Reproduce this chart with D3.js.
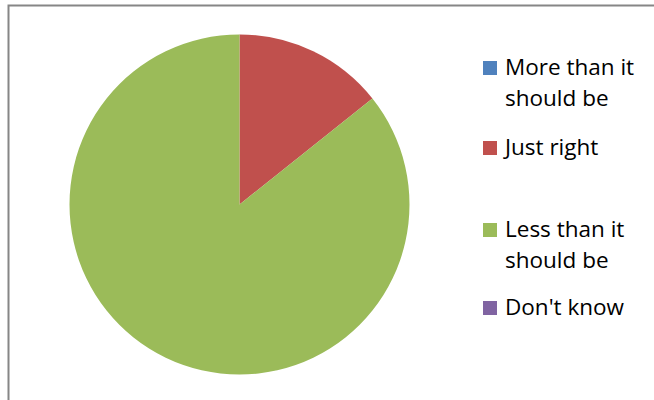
<!DOCTYPE html>
<html>
<head>
<meta charset="utf-8">
<script src="https://cdn.jsdelivr.net/npm/d3@7"></script>
<style>
  body { margin: 0; background: #fff; }
  svg { display: block; }
</style>
</head>
<body>
<svg id="chart"></svg>
<script>
// data
const categories = ["More than it should be", "Just right", "Less than it should be", "Don't know"];
const values = [0, 1, 6, 0];
const legendLines = [["More than it", "should be"], ["Just right"], ["Less than it", "should be"], ["Don't know"]];
const colors = ["#4F81BD", "#C0504D", "#9BBB59", "#8064A2"];

// constants
const width = 654;
const height = 400;
const cx = 239.5, cy = 204.5, radius = 170;

const svg = d3.select('#chart')
  .attr('width', width)
  .attr('height', height);

// chart frame (runs off the right and bottom edge)
svg.append('rect')
  .attr('x', 8.5)
  .attr('y', 5.5)
  .attr('width', 700)
  .attr('height', 500)
  .attr('fill', '#fff')
  .attr('stroke', '#868686')
  .attr('stroke-width', 2);

const color = d3.scaleOrdinal().domain(categories).range(colors);

const pie = d3.pie().sort(null).value(d => d.value);
const arc = d3.arc().innerRadius(0).outerRadius(radius);

const slices = pie(categories.map((c, i) => ({ name: c, value: values[i] })));

svg.append('g')
  .attr('transform', 'translate(' + cx + ',' + cy + ')')
  .selectAll('path')
  .data(slices.filter(d => d.value > 0))
  .enter().append('path')
  .attr('d', arc)
  .attr('fill', d => color(d.data.name));

// legend
const itemTop = [75, 155, 237, 315]; // baseline of first line per item
const lineHeight = 31;
const legend = svg.append('g');

categories.forEach((c, i) => {
  const g = legend.append('g');
  g.append('rect')
    .attr('x', 483)
    .attr('y', itemTop[i] - 14)
    .attr('width', 14)
    .attr('height', 14)
    .attr('fill', color(c));
  legendLines[i].forEach((t, j) => {
    g.append('text')
      .attr('x', 505)
      .attr('y', itemTop[i] + j * lineHeight)
      .attr('font-family', '"Open Sans", sans-serif')
      .attr('font-size', 22.5)
      .attr('fill', '#000')
      .text(t);
  });
});
</script>
</body>
</html>
